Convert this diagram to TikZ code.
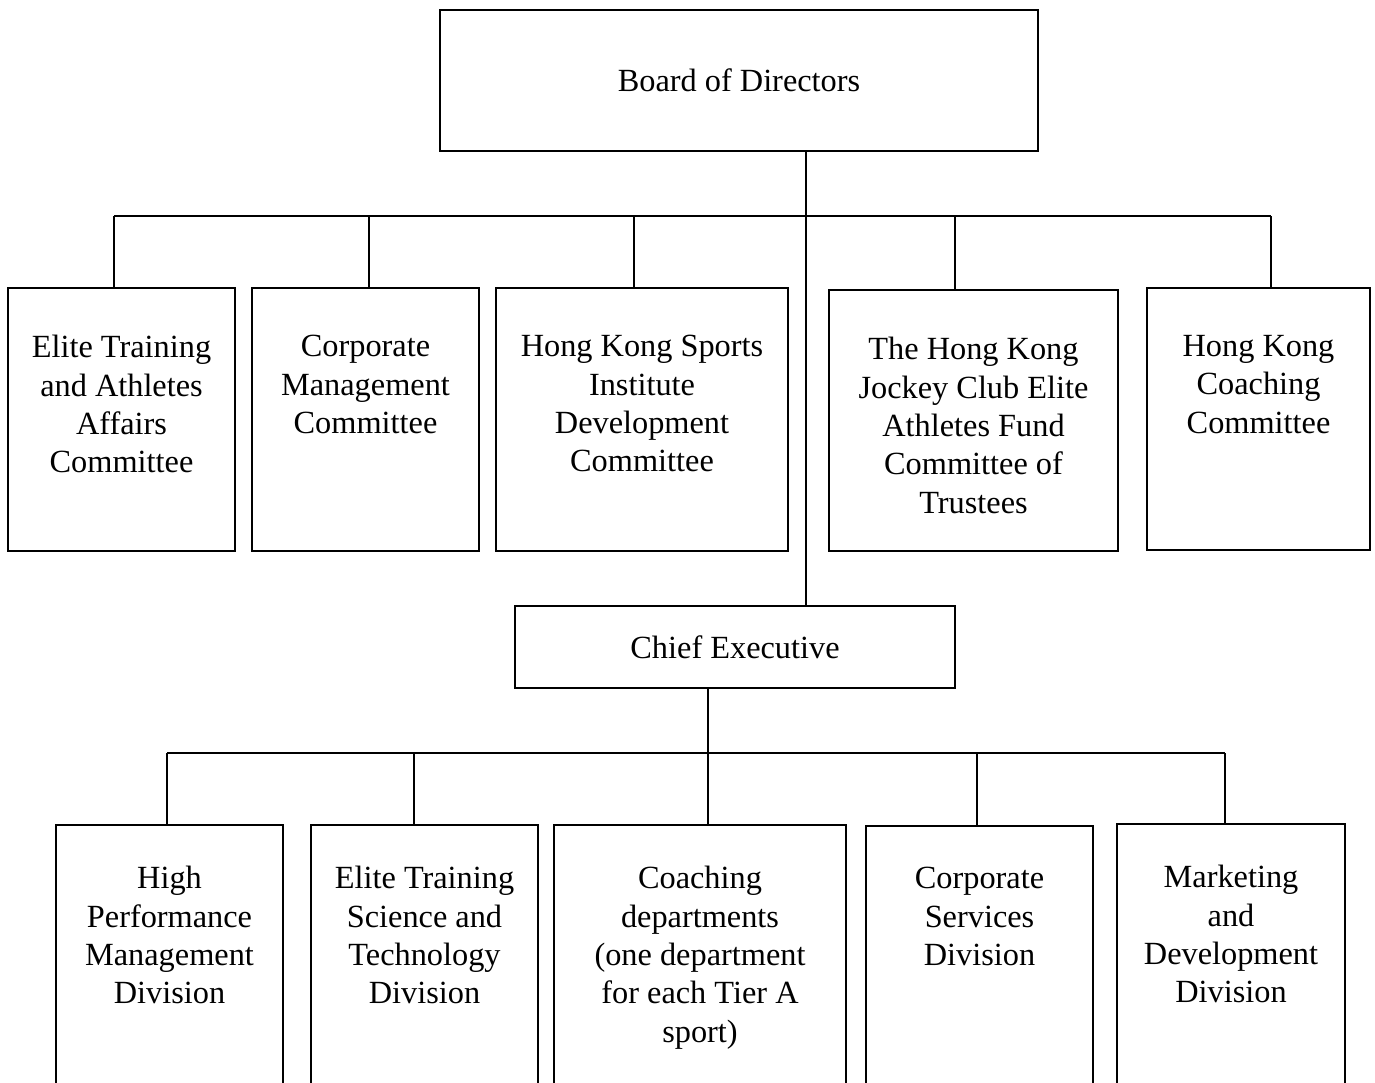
\documentclass[tikz,border=0pt]{standalone}
\usepackage{fontspec}
\setmainfont{Liberation Serif}
\usepackage{tikz}
\usetikzlibrary{positioning}

\begin{document}
\begin{tikzpicture}[
x=0.02cm, y=-0.02cm,
Box/.style={draw, line width=1pt, inner sep=0pt, outer sep=0pt},
Txt/.style={align=center, inner sep=0pt, font=\fontsize{18.4}{21.8}\selectfont},
Links/.style={line width=1pt}
]
\clip (0,0) rectangle (1375,1082);

% top level
\node[Box, minimum width=11.96cm, minimum height=2.82cm] (board) at (739,80.5) {};
\node[Txt] (board-t) at (board.center) {Board of Directors};

% committees
\node[Box, minimum width=4.54cm, minimum height=5.26cm] (etaac) at (121.5,419.5) {};
\node[Box, minimum width=4.54cm, minimum height=5.26cm] (cmc) at (365.5,419.5) {};
\node[Box, minimum width=5.84cm, minimum height=5.26cm] (hksi) at (642,419.5) {};
\node[Box, minimum width=5.78cm, minimum height=5.22cm] (hkjc) at (973.5,420.5) {};
\node[Box, minimum width=4.46cm, minimum height=5.24cm] (hkcc) at (1258.5,419) {};

\node[Txt, anchor=north, below=0.94cm of etaac.north] (etaac-t) {Elite Training\\and Athletes\\Affairs\\Committee};
\node[Txt, anchor=north, below=0.94cm of cmc.north] (cmc-t) {Corporate\\Management\\Committee};
\node[Txt, anchor=north, below=0.94cm of hksi.north] (hksi-t) {Hong Kong Sports\\Institute\\Development\\Committee};
\node[Txt, anchor=north, below=0.94cm of hkjc.north] (hkjc-t) {The Hong Kong\\Jockey Club Elite\\Athletes Fund\\Committee of\\Trustees};
\node[Txt, anchor=north, below=0.94cm of hkcc.north] (hkcc-t) {Hong Kong\\Coaching\\Committee};

% chief executive
\node[Box, minimum width=8.80cm, minimum height=1.64cm] (chief) at (735,647) {};
\node[Txt] (chief-t) at (chief.center) {Chief Executive};

% divisions (cut off at the bottom)
\node[Box, minimum width=4.54cm, minimum height=7.5cm] (hpmd) at (169.5,1012.5) {};
\node[Box, minimum width=4.54cm, minimum height=7.5cm] (etst) at (424.5,1012.5) {};
\node[Box, minimum width=5.84cm, minimum height=7.5cm] (coach) at (700,1012.5) {};
\node[Box, minimum width=4.54cm, minimum height=7.5cm] (csd) at (979.5,1013.5) {};
\node[Box, minimum width=4.56cm, minimum height=7.5cm] (mdd) at (1231,1011.5) {};

\node[Txt, anchor=north, below=0.82cm of hpmd.north] (hpmd-t) {High\\Performance\\Management\\Division};
\node[Txt, anchor=north, below=0.82cm of etst.north] (etst-t) {Elite Training\\Science and\\Technology\\Division};
\node[Txt, anchor=north, below=0.82cm of coach.north] (coach-t) {Coaching\\departments\\(one department\\for each Tier A\\sport)};
\node[Txt, anchor=north, below=0.82cm of csd.north] (csd-t) {Corporate\\Services\\Division};
\node[Txt, anchor=north, below=0.82cm of mdd.north] (mdd-t) {Marketing\\and\\Development\\Division};

% connectors
\coordinate (trunk) at (806,216);
\coordinate (busL) at (114,216);
\coordinate (busR) at (1271,216);
\coordinate (d2) at (369,216);
\coordinate (d3) at (634,216);
\coordinate (d4) at (955,216);

\draw[Links] (board.south -| trunk) -- (chief.north -| trunk);
\draw[Links] (busL) -- (busR);
\draw[Links] (busL) -- (busL |- etaac.north);
\draw[Links] (d2) -- (d2 |- cmc.north);
\draw[Links] (d3) -- (d3 |- hksi.north);
\draw[Links] (d4) -- (d4 |- hkjc.north);
\draw[Links] (busR) -- (busR |- hkcc.north);

\coordinate (lbusL) at (167,753);
\coordinate (lbusR) at (1225,753);
\coordinate (e2) at (414,753);
\coordinate (e3) at (708,753);
\coordinate (e4) at (977,753);

\draw[Links] (lbusL) -- (lbusR);
\draw[Links] (chief.south -| e3) -- (e3 |- coach.north);
\draw[Links] (lbusL) -- (lbusL |- hpmd.north);
\draw[Links] (e2) -- (e2 |- etst.north);
\draw[Links] (e4) -- (e4 |- csd.north);
\draw[Links] (lbusR) -- (lbusR |- mdd.north);

\end{tikzpicture}
\end{document}
